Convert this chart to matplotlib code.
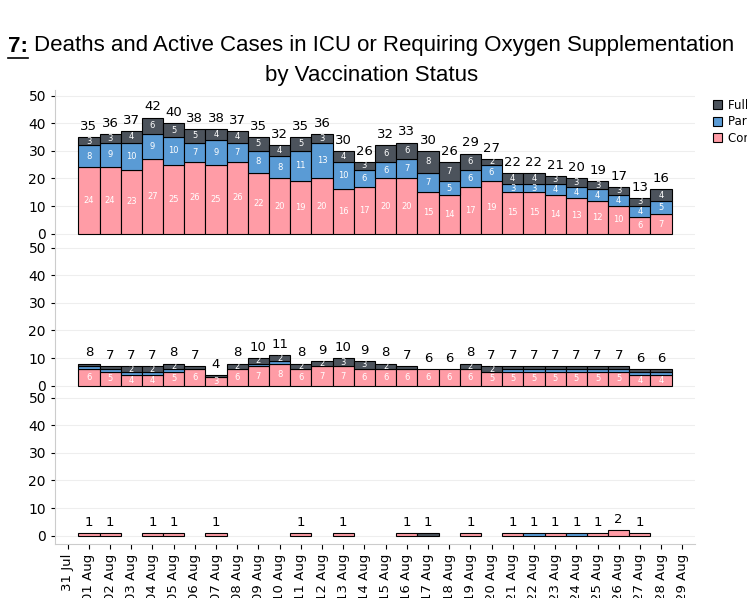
import numpy as np
import matplotlib.pyplot as plt
import matplotlib.dates as mdates
import pandas as pd
from matplotlib.lines import Line2D

dates = pd.date_range("2021-08-01", "2021-08-28")

# top panel
top_unvax = [24, 24, 23, 27, 25, 26, 25, 26, 22, 20, 19, 20, 16, 17, 20, 20, 15, 14, 17, 19, 15, 15, 14, 13, 12, 10, 6, 7]
top_part = [8, 9, 10, 9, 10, 7, 9, 7, 8, 8, 11, 13, 10, 6, 6, 7, 7, 5, 6, 6, 3, 3, 4, 4, 4, 4, 4, 5]
top_full = [3, 3, 4, 6, 5, 5, 4, 4, 5, 4, 5, 3, 4, 3, 6, 6, 8, 7, 6, 2, 4, 4, 3, 3, 3, 3, 3, 4]

# middle panel
mid_unvax = [6, 5, 4, 4, 5, 6, 3, 6, 7, 8, 6, 7, 7, 6, 6, 6, 6, 6, 6, 5, 5, 5, 5, 5, 5, 5, 4, 4]
mid_part = [1, 1, 1, 1, 1, 0, 0, 0, 1, 1, 0, 0, 0, 0, 0, 0, 0, 0, 0, 0, 1, 1, 1, 1, 1, 1, 1, 1]
mid_full = [1, 1, 2, 2, 2, 1, 1, 2, 2, 2, 2, 2, 3, 3, 2, 1, 0, 0, 2, 2, 1, 1, 1, 1, 1, 1, 1, 1]

# bottom panel (deaths)
bot_unvax = [1, 1, 0, 1, 1, 0, 1, 0, 0, 0, 1, 0, 1, 0, 0, 1, 0, 0, 1, 0, 1, 0, 1, 0, 1, 2, 1, 0]
bot_part = [0, 0, 0, 0, 0, 0, 0, 0, 0, 0, 0, 0, 0, 0, 0, 0, 0, 0, 0, 0, 0, 1, 0, 1, 0, 0, 0, 0]
bot_full = [0, 0, 0, 0, 0, 0, 0, 0, 0, 0, 0, 0, 0, 0, 0, 0, 1, 0, 0, 0, 0, 0, 0, 0, 0, 0, 0, 0]

PINK = "#FF9CA6"
BLUE = "#5A9BD5"
DARK = "#4C535C"

fig = plt.figure(figsize=(7.47, 5.98), dpi=100)
left, right = 55 / 747, 695 / 747
tops = [90, 242, 392]
h = 152
axes = []
for t in tops:
    ax = fig.add_axes([left, 1 - (t + h) / 598, right - left, h / 598])
    axes.append(ax)

panels = [(top_unvax, top_part, top_full),
          (mid_unvax, mid_part, mid_full),
          (bot_unvax, bot_part, bot_full)]

x = mdates.date2num(dates)
for ax, (u, p, f) in zip(axes, panels):
    u = np.array(u); p = np.array(p); f = np.array(f)
    kw = dict(width=1.0, edgecolor="black", linewidth=0.8)
    mu = u > 0
    ax.bar(x[mu], u[mu], color=PINK, label="Completely unvaccinated", **kw)
    mp = p > 0
    ax.bar(x[mp], p[mp], bottom=u[mp], color=BLUE, label="Partially vaccinated", **kw)
    mf = f > 0
    ax.bar(x[mf], f[mf], bottom=(u + p)[mf], color=DARK, label="Fully vaccinated", **kw)
    tot = u + p + f
    for xi, ui, pi, fi, ti in zip(x, u, p, f, tot):
        if ti == 0:
            continue
        ax.text(xi, ti + 1.5, str(ti), ha="center", va="bottom", fontsize=9.5)
        if ui >= 3:
            ax.text(xi, ui / 2, str(ui), ha="center", va="center", fontsize=6, color="white")
        if pi >= 3:
            ax.text(xi, ui + pi / 2, str(pi), ha="center", va="center", fontsize=6, color="white")
        if fi >= 2:
            ax.text(xi, ui + pi + fi / 2, str(fi), ha="center", va="center", fontsize=6, color="white")
    ax.set_ylim(-3, 52)
    ax.set_yticks([0, 10, 20, 30, 40, 50])
    ax.set_xlim(mdates.date2num(pd.Timestamp("2021-07-31")) - 0.6,
                mdates.date2num(pd.Timestamp("2021-08-29")) + 0.6)
    ax.grid(axis="y", color="#eeeeee", linewidth=0.8)
    ax.set_axisbelow(True)
    ax.tick_params(axis="y", labelsize=10, length=3)
    for s in ["top", "right"]:
        ax.spines[s].set_visible(False)
    ax.spines["left"].set_color("#cccccc")
    ax.spines["bottom"].set_color("#cccccc")

for ax in axes[:2]:
    ax.set_xticks([])
    ax.spines["bottom"].set_visible(False)

ticks = pd.date_range("2021-07-31", "2021-08-29")
axes[2].set_xticks(mdates.date2num(ticks))
axes[2].set_xticklabels([d.strftime("%d %b") for d in ticks], rotation=90, fontsize=9.5)

handles, labels = axes[0].get_legend_handles_labels()
fig.legend(handles[::-1], labels[::-1], loc="upper left", bbox_to_anchor=(702 / 747, 1 - 88 / 598),
           frameon=False, fontsize=8.5, handlelength=0.8, handleheight=0.8, handletextpad=0.5,
           labelspacing=0.3)

ty = 1 - 46 / 598
fig.text(8 / 747, ty, "7:", fontsize=16, fontweight="bold", va="center", ha="left",
         family="Liberation Sans")
fig.add_artist(Line2D([8 / 747, 28 / 747], [1 - 58 / 598] * 2, color="black", linewidth=1.2))
fig.text(34 / 747, ty, "Deaths and Active Cases in ICU or Requiring Oxygen Supplementation",
         fontsize=16, va="center", ha="left", family="Liberation Sans")
fig.text(372 / 747, 1 - 75 / 598, "by Vaccination Status", fontsize=16, ha="center", va="center",
         family="Liberation Sans")

fig.savefig("out.png", dpi=100)
